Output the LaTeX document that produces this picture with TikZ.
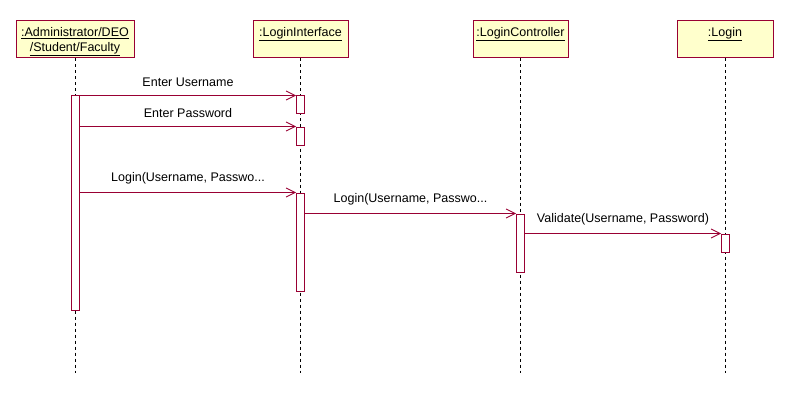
\documentclass[tikz,border=0pt]{standalone}
\usepackage{fontspec}
\setmainfont{Liberation Sans}
\usetikzlibrary{arrows.meta}
\definecolor{umlred}{RGB}{153,0,51}
\definecolor{umlfill}{RGB}{255,255,204}
\begin{document}
\begin{tikzpicture}[x=1pt,y=-1pt,
  objbox/.style={draw=umlred,fill=umlfill,line width=1pt,minimum height=37pt,inner sep=0pt},
  objname/.style={anchor=north,font=\fontsize{12.5pt}{16pt}\selectfont,align=center,inner sep=0pt},
  actbox/.style={draw=umlred,fill=white,line width=1pt,minimum width=8pt,inner sep=0pt},
  lifeline/.style={draw=black,line width=0.9pt,dash pattern=on 3pt off 3pt},
  msg/.style={draw=umlred,line width=1pt,-{Straight Barb[length=9pt,width=9pt,line width=0.8pt]}},
  msglabel/.style={font=\fontsize{12.5pt}{14pt}\selectfont,inner sep=0pt}]
\useasboundingbox (0,0) rectangle (797,409);

% object boxes
\node[objbox,minimum width=118pt] (actor) at (75,39.5) {};
\node[objname] (actorname) at (75,27) {\underline{:Administrator/DEO}\\[-1pt]\underline{/Student/Faculty}};
\node[objbox,minimum width=95pt] (ui) at (300.5,39.5) {};
\node[objname] (uiname) at (300.5,27) {\underline{:LoginInterface}};
\node[objbox,minimum width=95pt] (ctrl) at (520.5,39.5) {};
\node[objname] (ctrlname) at (520.5,27) {\underline{:LoginController}};
\node[objbox,minimum width=96pt] (login) at (725,39.5) {};
\node[objname] (loginname) at (725,27) {\underline{:Login}};

% lifeline ends
\coordinate (actorend) at (75,373);
\coordinate (uiend) at (300.5,373);
\coordinate (ctrlend) at (520.5,373);
\coordinate (loginend) at (725,373);

\draw[lifeline] (actor.south) -- (actorend);
\draw[lifeline] (ui.south) -- (uiend);
\draw[lifeline] (ctrl.south) -- (ctrlend);
\draw[lifeline] (login.south) -- (loginend);

% activation bars
\node[actbox,minimum height=214pt] (a1) at (75.5,203) {};
\node[actbox,minimum height=18pt] (u1) at (300.5,105) {};
\node[actbox,minimum height=18pt] (u2) at (300.5,136) {};
\node[actbox,minimum height=98pt] (u3) at (300.5,242) {};
\node[actbox,minimum height=58pt] (c1) at (520.5,243) {};
\node[actbox,minimum height=18pt] (l1) at (725.5,243) {};

% messages
\draw[msg] (a1.east |- u1.north west) -- (u1.north west)
  node[msglabel,midway,above=8pt] {Enter Username};
\draw[msg] (a1.east |- u2.north west) -- (u2.north west)
  node[msglabel,midway,above=8pt] {Enter Password};
\draw[msg] (a1.east |- u3.north west) -- (u3.north west)
  node[msglabel,midway,above=8pt] {Login(Username, Passwo...};
\draw[msg] (u3.east |- c1.north west) -- (c1.north west)
  node[msglabel,midway,above=8pt] {Login(Username, Passwo...};
\draw[msg] (c1.east |- l1.north west) -- (l1.north west)
  node[msglabel,midway,above=8pt] {Validate(Username, Password)};
\end{tikzpicture}
\end{document}
